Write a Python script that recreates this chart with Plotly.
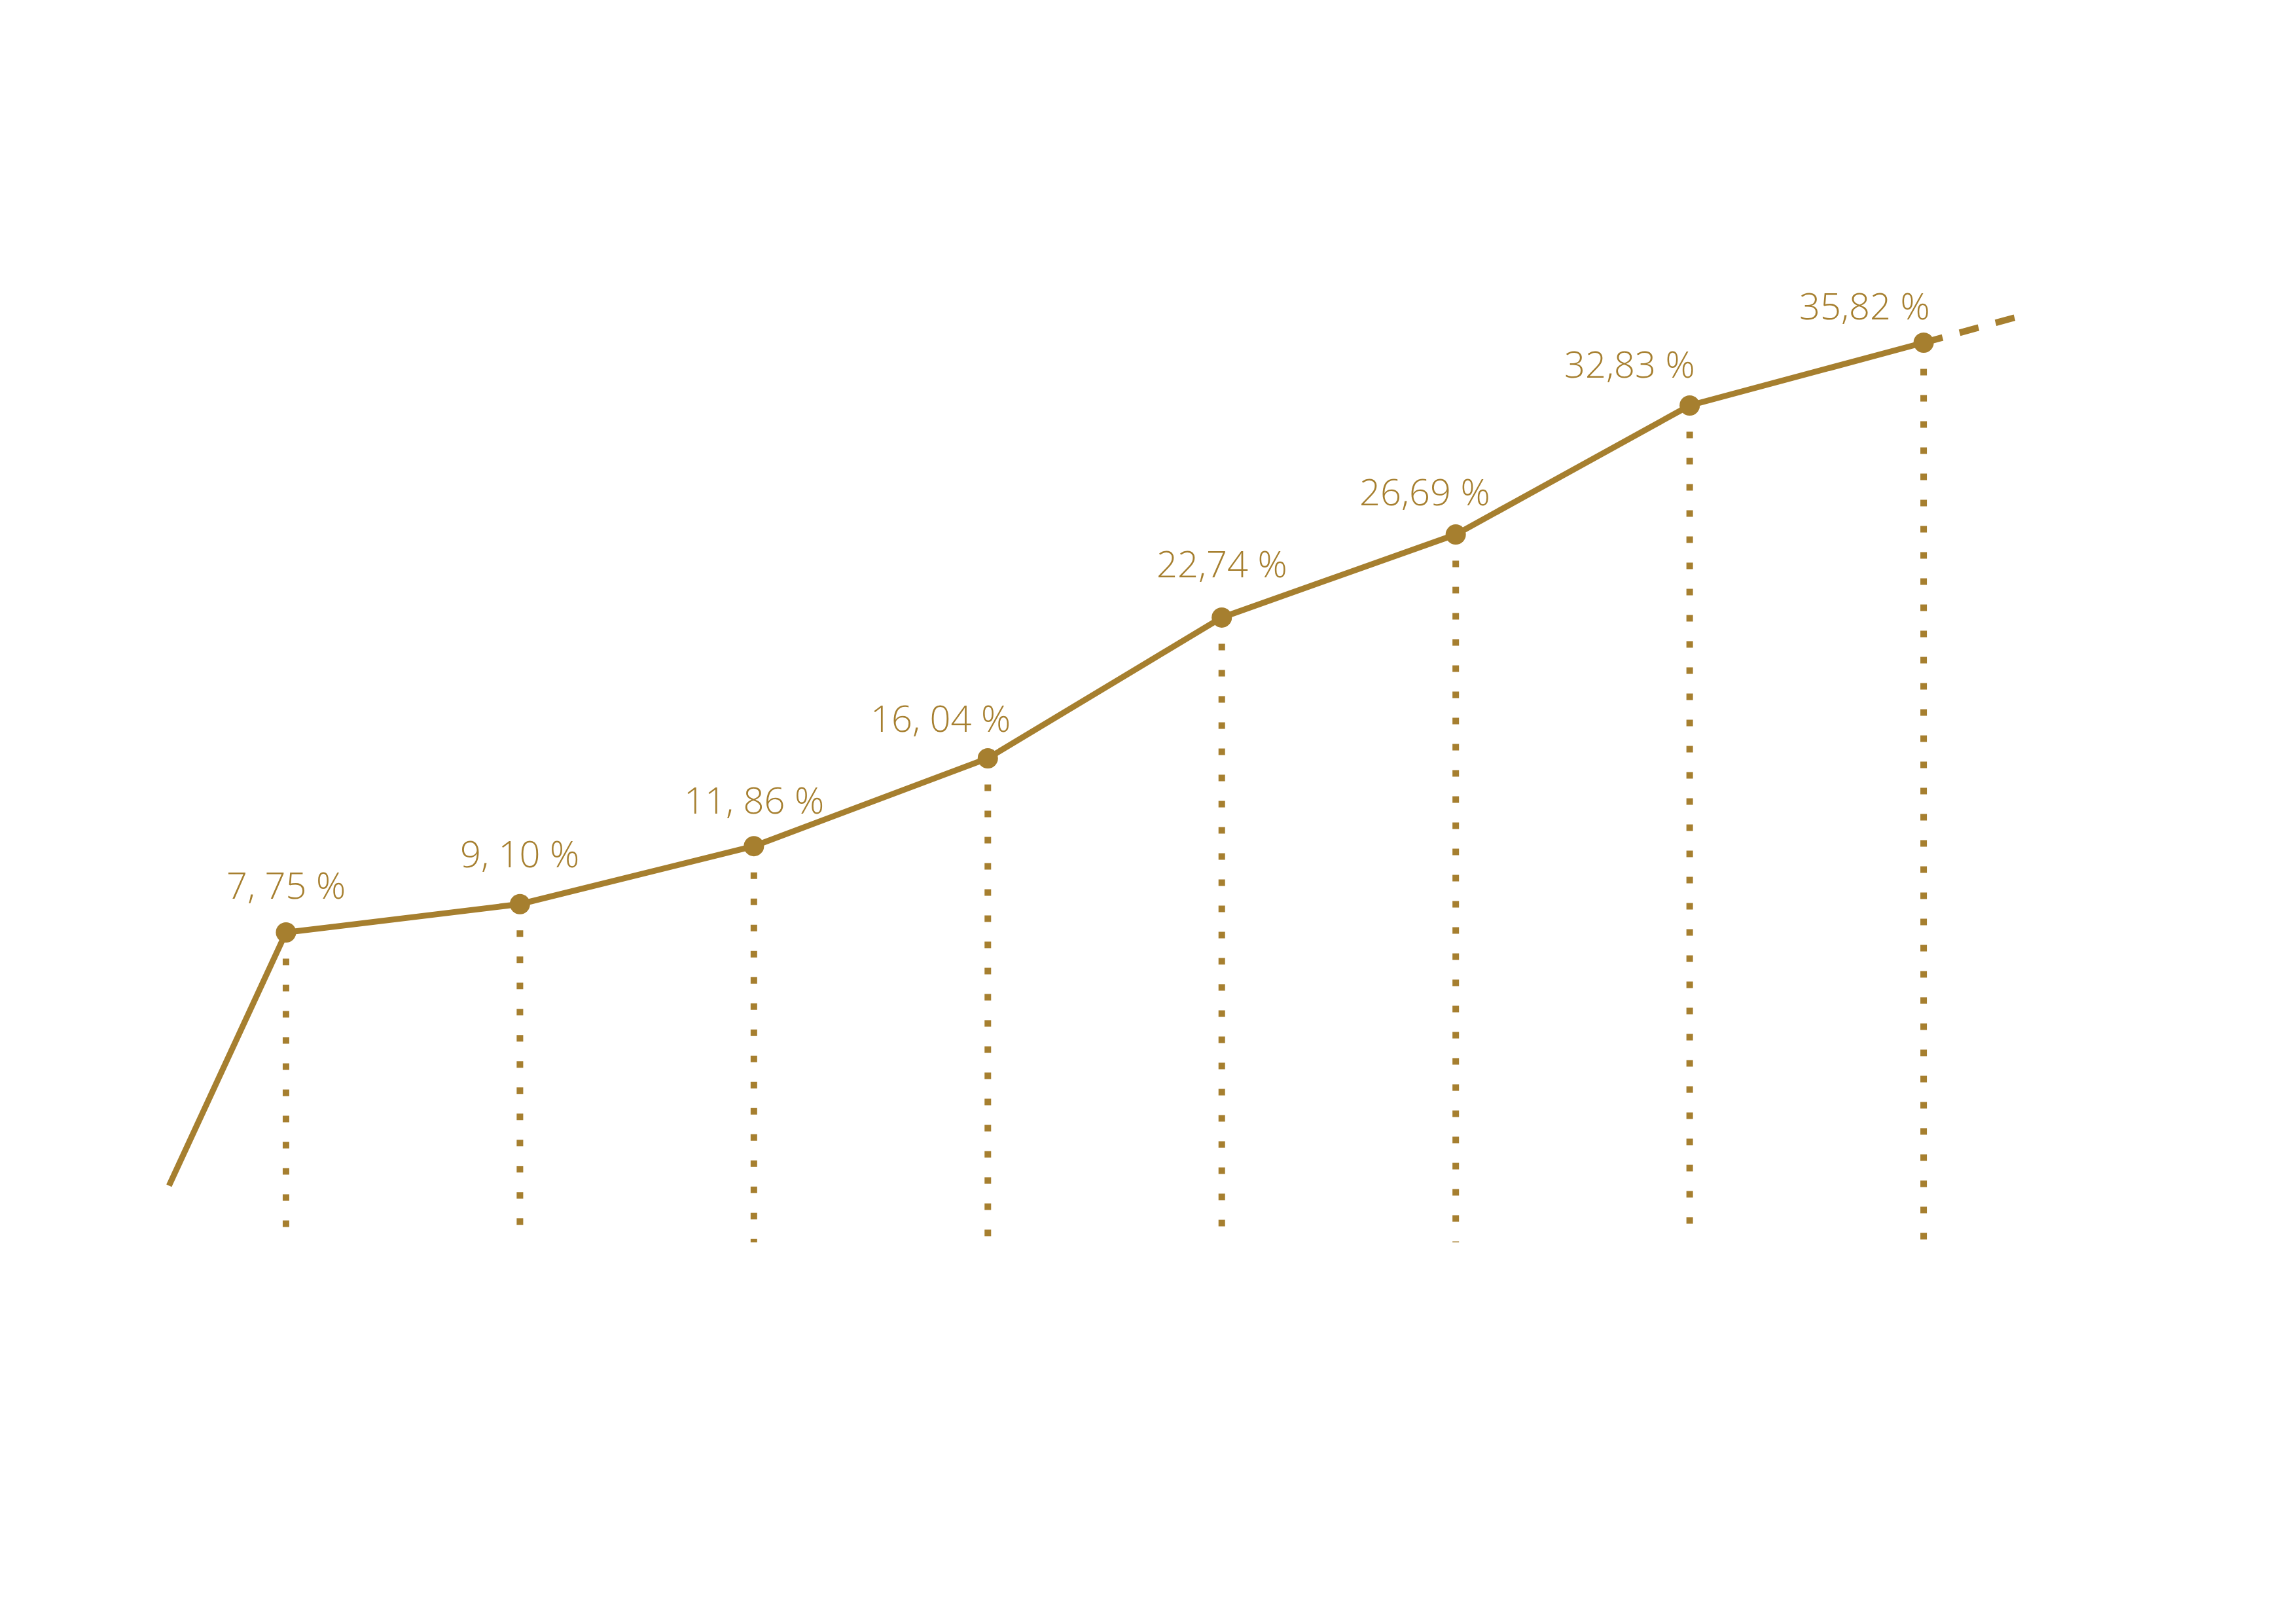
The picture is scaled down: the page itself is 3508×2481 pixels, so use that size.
import plotly.graph_objects as go

# ---- data ----
positions = [1, 2, 3, 4, 5, 6, 7, 8]
values = [7.75, 9.10, 11.86, 16.04, 22.74, 26.69, 32.83, 35.82]
labels = ["7, 75 %", "9, 10 %", "11, 86 %", "16, 04 %", "22,74 %", "26,69 %", "32,83 %", "35,82 %"]
lead_in_x = 0.50      # where the lead-in segment starts
lead_in_value = -4.3  # estimated level of the lead-in start
trend_x = 8.45        # end of the dashed projection
trend_value = 37.2    # estimated level at the end of projection
baseline = -7.0       # bottom of the dotted drop lines

GOLD = "#A67F2F"

# label offsets (layout only, px)
label_dx = [0, 0, 0, -72, 0, -47, -92, -90]
label_dy = [74, 78, 72, 62, 83, 67, 65, 58]

fig = go.Figure()

# dotted drop lines
for x, v in zip(positions, values):
    fig.add_trace(go.Scatter(
        x=[x, x], y=[v, baseline], mode="lines",
        line=dict(color=GOLD, width=10, dash="10px,30px"),
        hoverinfo="skip", showlegend=False))

# lead-in segment
fig.add_trace(go.Scatter(
    x=[lead_in_x, positions[0]], y=[lead_in_value, values[0]], mode="lines",
    line=dict(color=GOLD, width=9), hoverinfo="skip", showlegend=False))

# dashed projection
fig.add_trace(go.Scatter(
    x=[positions[-1], trend_x], y=[values[-1], trend_value], mode="lines",
    line=dict(color=GOLD, width=10, dash="30px,27px"),
    hoverinfo="skip", showlegend=False))

# main line
fig.add_trace(go.Scatter(
    x=positions, y=values, mode="lines+markers",
    line=dict(color=GOLD, width=9),
    marker=dict(color=GOLD, size=31),
    showlegend=False))

for x, v, t, dx, dy in zip(positions, values, labels, label_dx, label_dy):
    fig.add_annotation(
        x=x, y=v, text=t, showarrow=False, xanchor="center", yanchor="middle",
        xshift=dx, yshift=dy,
        font=dict(family="Open Sans", size=56, color=GOLD, weight=300))

fig.update_layout(
    width=3508, height=2481,
    margin=dict(l=0, r=0, t=0, b=0),
    paper_bgcolor="white", plot_bgcolor="white",
    xaxis=dict(range=[-0.20, 9.614], visible=False, fixedrange=True),
    yaxis=dict(range=[-25.41, 51.88], visible=False, fixedrange=True),
)

fig.write_html("out.html")
